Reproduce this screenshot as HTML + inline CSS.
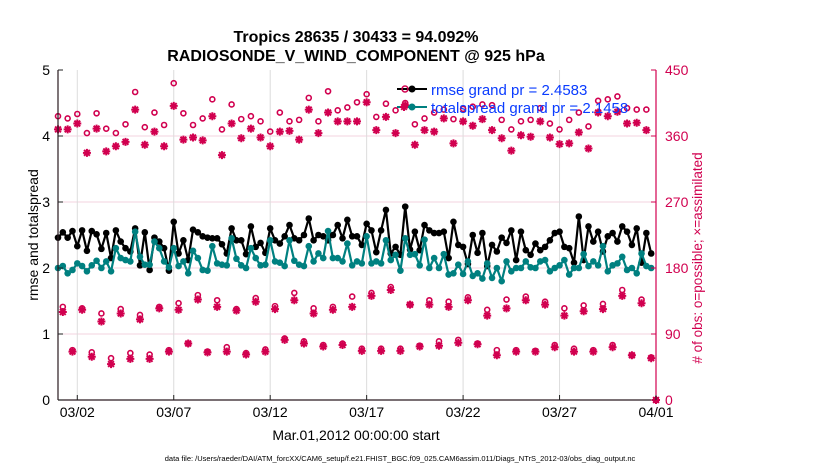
<!DOCTYPE html>
<html><head><meta charset="utf-8"><style>
body{margin:0;background:#fff;}
svg{display:block;font-family:"Liberation Sans",sans-serif;}
</style></head><body>
<svg id="chart" width="830" height="470">
<text x="356" y="42" text-anchor="middle" font-size="16" font-weight="bold">Tropics 28635 / 30433 = 94.092%</text>
<text x="356" y="61" text-anchor="middle" font-size="16" font-weight="bold">RADIOSONDE_V_WIND_COMPONENT @ 925 hPa</text>
<g id="grid"></g>
<g id="series"></g>
<g id="axes"></g>
<text x="0" y="0" transform="translate(38,235) rotate(-90)" text-anchor="middle" font-size="14">rmse and totalspread</text>
<text x="0" y="0" transform="translate(702,258) rotate(-90)" text-anchor="middle" font-size="13.5" fill="#d1004f"># of obs: o=possible; ×=assimilated</text>
<text x="356" y="440" text-anchor="middle" font-size="14">Mar.01,2012 00:00:00 start</text>
<text x="400" y="461" text-anchor="middle" font-size="7.5">data file: /Users/raeder/DAI/ATM_forcXX/CAM6_setup/f.e21.FHIST_BGC.f09_025.CAM6assim.011/Diags_NTrS_2012-03/obs_diag_output.nc</text>
<g>
<line x1="397" y1="89" x2="427" y2="89" stroke="#000" stroke-width="2"/>
<circle cx="405" cy="89" r="3" fill="none" stroke="#d1004f" stroke-width="1.5"/>
<circle cx="412" cy="89" r="3.5" fill="#000"/>
<text x="431" y="95" font-size="15" fill="#0a3cff">rmse grand pr = 2.4583</text>
<line x1="397" y1="107" x2="427" y2="107" stroke="#008080" stroke-width="2"/>
<path d="M404 103v8M400 107h8M401.2 104.2l5.6 5.6M406.8 104.2l-5.6 5.6" stroke="#d1004f" stroke-width="2"/>
<circle cx="412" cy="107" r="3.5" fill="#008080"/>
<text x="431" y="113" font-size="15" fill="#0a3cff">totalspread grand pr = 2.1458</text>
</g>
</svg>
<script>
const rmse=[2.46,2.54,2.46,2.56,2.33,2.57,2.26,2.56,2.51,2.29,2.53,2.15,2.57,2.40,2.30,2.25,2.60,2.04,2.54,1.97,2.46,2.40,2.30,1.96,2.70,2.22,2.42,2.12,2.58,2.54,2.48,2.46,2.45,2.45,2.36,2.22,2.60,2.42,2.42,2.21,2.63,2.32,2.38,2.23,2.60,2.42,2.37,2.48,2.65,2.45,2.42,2.50,2.75,2.42,2.50,2.48,2.42,2.50,2.65,2.45,2.73,2.48,
2.48,2.35,2.67,2.57,2.24,2.57,2.88,2.22,2.32,2.20,2.93,2.28,2.55,2.27,2.65,2.57,2.53,2.53,2.55,2.15,2.70,2.35,2.32,2.06,2.50,2.23,2.53,2.03,2.35,2.25,2.46,2.38,2.57,2.12,2.55,2.27,2.20,2.37,2.27,2.32,2.42,2.53,2.55,2.32,2.30,2.08,2.78,2.12,2.63,2.40,2.55,2.25,2.48,2.53,2.40,2.63,2.55,2.35,2.60,2.08,2.53,2.22];
const spread=[2.00,2.03,1.92,1.97,2.07,2.03,1.95,2.04,2.11,2.00,2.10,1.95,2.30,2.15,2.12,2.10,2.55,2.17,2.05,2.05,2.40,2.30,2.10,2.01,2.30,2.03,2.10,1.92,2.26,2.15,1.97,1.96,2.33,2.07,2.05,2.04,2.45,2.14,2.04,2.00,2.30,2.15,2.04,2.05,2.42,2.10,2.08,2.03,2.42,2.11,2.05,2.03,2.33,2.10,2.22,2.15,2.56,2.15,2.15,2.10,2.37,2.04,
2.10,2.07,2.48,2.07,2.10,2.07,2.42,2.12,2.20,1.96,2.45,2.20,2.21,2.04,2.43,2.00,2.15,2.00,2.21,1.90,1.92,2.05,1.91,2.10,1.88,1.92,1.84,2.07,1.85,2.00,1.80,2.10,1.95,2.00,2.00,2.10,2.01,2.00,2.10,2.12,1.95,2.00,2.04,2.12,1.90,2.00,2.00,2.21,2.03,2.10,2.04,2.33,1.95,2.04,2.07,2.17,1.97,2.00,1.92,2.22,2.03,2.00];
const possible=[387,127,384,68,390,125,364,65,391,118,370,57,364,124,376,64,420,116,372,62,392,127,375,68,432,132,391,77,375,143,384,66,410,136,369,72,403,124,383,64,387,139,380,69,366,128,392,84,380,146,382,80,412,125,380,75,421,127,395,77,399,141,
406,70,417,146,386,70,404,154,395,70,405,130,376,74,384,136,392,80,396,134,383,82,397,140,400,77,403,123,402,68,382,137,369,68,380,141,382,67,398,134,377,75,369,125,382,70,392,129,373,68,408,131,410,75,414,150,398,61,396,137,396,58,0];
const assimilated=[369,120,369,66,377,123,337,59,370,107,339,49,346,118,352,56,396,110,348,56,366,125,346,66,401,123,355,77,358,137,354,65,387,127,334,66,377,122,357,62,370,134,358,66,346,124,366,82,367,136,355,77,396,118,364,73,392,123,380,75,380,127,
380,67,406,142,368,67,386,150,364,67,402,130,348,73,368,130,366,74,384,127,350,78,380,136,374,76,383,115,368,61,357,125,340,66,361,136,359,66,380,130,358,72,349,115,350,66,365,121,343,66,392,124,387,72,393,142,377,61,378,132,368,57,0];
const xTickLabels=["03/02","03/07","03/12","03/17","03/22","03/27","04/01"];
const xTickDays=[1,6,11,16,21,26,31];
const yLeftTicks=[0,1,2,3,4,5];
const yRightTicks=[0,90,180,270,360,450];

const NS="http://www.w3.org/2000/svg";
const L=58,R=656,T=70,B=400,PINK="#d1004f",TEAL="#008080";
const xs=d=>L+(R-L)*d/31;
const yl=v=>B-(B-T)*v/5;
const yr=c=>B-(B-T)*c/450;
const tOf=i=>i*0.25;
function mk(tag,attrs,parent){const e=document.createElementNS(NS,tag);for(const k in attrs)e.setAttribute(k,attrs[k]);parent.appendChild(e);return e;}
const grid=document.getElementById('grid'),ser=document.getElementById('series'),ax=document.getElementById('axes');

yLeftTicks.forEach(v=>{if(v>0&&v<5){const g=mk('line',{x1:L,x2:R,y1:yl(v),y2:yl(v),stroke:'#f3d3df','stroke-width':1},grid);

}});
xTickDays.forEach(d=>{const g=mk('line',{x1:xs(d),x2:xs(d),y1:T,y2:B,stroke:'#dcdcdc','stroke-width':1},grid);

});

possible.forEach((c,i)=>{const c1=mk('circle',{cx:xs(tOf(i)),cy:yr(c),r:2.5,fill:'none',stroke:PINK,'stroke-width':1.6},ser);

});
assimilated.forEach((c,i)=>{const x=xs(tOf(i)),y=yr(c),r=4,d=2.9;
const s=mk('path',{d:`M${x} ${y-r}V${y+r}M${x-r} ${y}H${x+r}M${x-d} ${y-d}L${x+d} ${y+d}M${x+d} ${y-d}L${x-d} ${y+d}`,stroke:PINK,'stroke-width':2,fill:'none'},ser);

});

function line(vals,color,name){
 const p=mk('polyline',{points:vals.map((v,i)=>xs(tOf(i))+','+yl(v)).join(' '),fill:'none',stroke:color,'stroke-width':2.2,'stroke-linejoin':'round'},ser);
 
 
 vals.forEach((v,i)=>{const c=mk('circle',{cx:xs(tOf(i)),cy:yl(v),r:3.3,fill:color},ser);
 
 });
}
line(rmse,'#000','rmse');
line(spread,TEAL,'totalspread');

const la=mk('line',{x1:L,x2:L,y1:T,y2:B,stroke:'#2a1a20','stroke-width':1.2},ax);


const ba=mk('line',{x1:L,x2:R,y1:B,y2:B,stroke:'#2a1a20','stroke-width':1.2},ax);


const ra=mk('line',{x1:R,x2:R,y1:T,y2:B,stroke:PINK,'stroke-width':1.2},ax);


yLeftTicks.forEach(v=>{mk('line',{x1:L,x2:L+5,y1:yl(v),y2:yl(v),stroke:'#222'},ax);
const t=mk('text',{x:L-8,y:yl(v)+5,'text-anchor':'end','font-size':14},ax);t.textContent=v;

});
yRightTicks.forEach(v=>{mk('line',{x1:R-5,x2:R,y1:yr(v),y2:yr(v),stroke:PINK},ax);
const t=mk('text',{x:R+9,y:yr(v)+5,'font-size':14,fill:PINK},ax);t.textContent=v;

});
xTickDays.forEach((d,k)=>{mk('line',{x1:xs(d),x2:xs(d),y1:B,y2:B-5,stroke:'#222'},ax);
const t=mk('text',{x:xs(d),y:B+17,'text-anchor':'middle','font-size':14},ax);t.textContent=xTickLabels[k];

});
</script>
</body></html>
